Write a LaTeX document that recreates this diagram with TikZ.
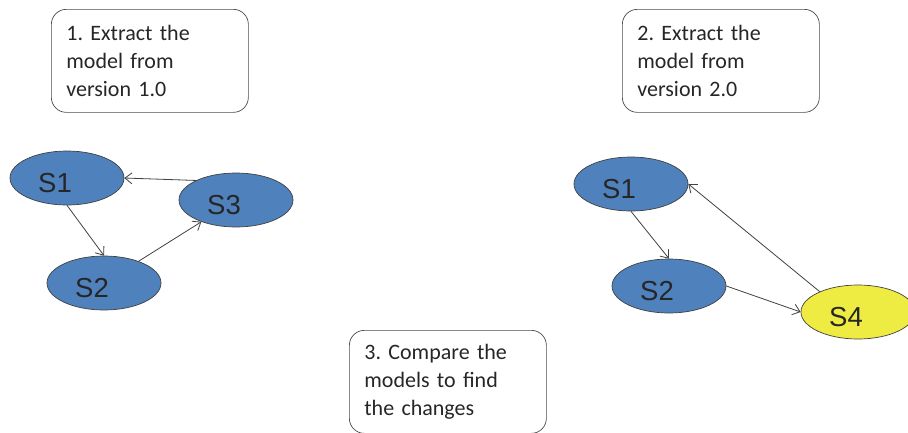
\documentclass[tikz,border=0pt]{standalone}
\usepackage{fontspec}
\setmainfont{Carlito}
\newfontfamily\statefont{Liberation Sans}
\usetikzlibrary{shapes.geometric,arrows.meta}
\frenchspacing

\definecolor{stateblue}{RGB}{79,129,189}
\definecolor{stateyellow}{RGB}{238,235,66}

\tikzset{
  stepbox/.style={draw=black!70, line width=0.7pt, rounded corners=15pt,
    minimum width=197pt, minimum height=103pt, text width=167pt,
    inner xsep=15pt, align=left, anchor=north west,
    font=\fontsize{22}{28}\selectfont, text=black!85},
  state/.style={ellipse, draw=black!75, line width=0.7pt, fill=stateblue,
    minimum width=114pt, minimum height=54pt, inner sep=0pt,
    label={[font=\statefont\fontsize{27.5}{28}\selectfont, text=black!85,
      xshift=-12pt, yshift=-5pt]center:#1}},
  edge/.style={->, draw=black!75, line width=0.8pt,
    >={Straight Barb[length=7pt,width=11pt]}}
}

\begin{document}
\begin{tikzpicture}[x=1pt,y=-1pt]
  \useasboundingbox (0,0) rectangle (908,432);

  % the three steps
  \node [stepbox] (step1) at (51,9) {1. Extract the\\model from\\version 1.0};
  \node [stepbox] (step2) at (622,9) {2. Extract the\\model from\\version 2.0};
  \node [stepbox] (step3) at (349,330) {3. Compare the\\models to find\\the changes};

  % model of version 1.0
  \node [state={S1}] (s1a) at (67,178) {};
  \node [state={S2}] (s2a) at (104,283) {};
  \node [state={S3}] (s3a) at (236,200) {};

  \draw [edge] (s1a.south) -- (s2a.north);
  \draw [edge] (s2a) -- (s3a);
  \draw [edge] (s3a.154) -- (s1a.east);

  % model of version 2.0
  \node [state={S1}] (s1b) at (631,184) {};
  \node [state={S2}] (s2b) at (669,286) {};
  \node [state={S4}, fill=stateyellow] (s4b) at (858,312) {};

  \draw [edge] (s1b.south) -- (s2b.north);
  \draw [edge] (s2b.east) -- (s4b.west);
  \draw [edge] (s4b.152) -- (s1b.east);
\end{tikzpicture}
\end{document}
